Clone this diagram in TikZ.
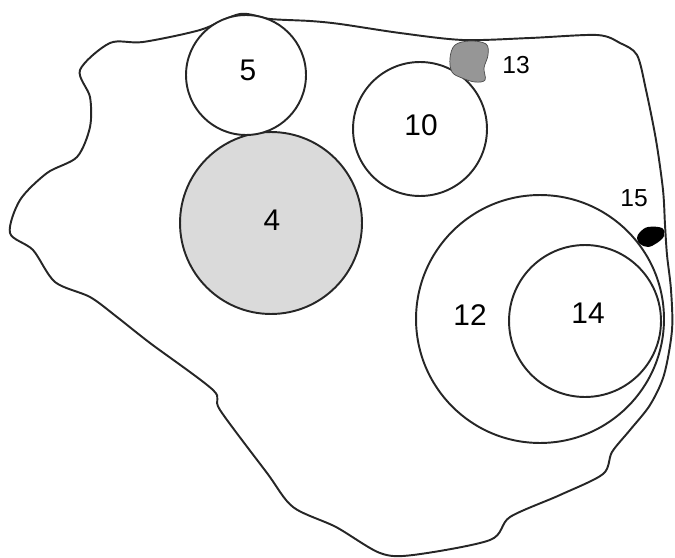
\documentclass[tikz,border=0pt]{standalone}
\usepackage{fontspec}
\setmainfont{Liberation Sans}
\definecolor{plotgray}{RGB}{218, 218, 218}
\definecolor{spotgray}{RGB}{150, 150, 150}

\begin{document}
\begin{tikzpicture}[
    x=0.02cm, y=-0.02cm,
    edge/.style={line width=1.1pt, black!85},
    zone/.style={circle, draw, line width=1.1pt, black!85, inner sep=0pt},
    lbl/.style={font=\fontsize{17}{17}\selectfont},
    smalllbl/.style={font=\fontsize{14}{14}\selectfont}
]
\useasboundingbox (0,0) rectangle (675,557);

% === Contorno de la parcela ===
\draw[edge] plot[smooth cycle, tension=0.5] coordinates {
    (240,14) (270,19) (310,21) (340,24) (400,33) (463,40) (530,38)
    (597,35) (620,43) (637,55) (646,90) (656,140) (663,190) (665,225)
    (667,255) (671,290) (672,330) (664,375) (650,405) (630,430)
    (612,452) (603,474) (560,495) (510,517) (490,540) (413,555)
    (380,553) (336,527) (293,507) (267,473) (220,410) (213,390)
    (150,343) (117,317) (90,297) (55,282) (33,250) (10,233) (20,200)
    (47,173) (77,157) (90,127) (90,97) (80,70) (110,43) (143,42)
    (200,30)};

% === Zonas circulares ===
\node[zone, fill=plotgray, minimum size=3.64cm] (c4) at (271,223) {};
\node[zone, fill=white, minimum size=2.4cm] (c5) at (246,75) {};
\node[zone, fill=white, minimum size=2.68cm] (c10) at (420,129) {};
\node[zone, minimum size=4.96cm] (c12) at (540,319) {};
\node[zone, minimum size=3.04cm] (c14) at (585,321) {};

% === Manchas pequeñas ===
\fill[spotgray, draw=black!70, line width=0.4pt] plot[smooth cycle, tension=0.6] coordinates {
    (455,45) (470,41) (486,44) (488,55) (484,68) (485,80) (475,82)
    (462,78) (452,72) (450,58)};
\fill[black] plot[smooth cycle, tension=0.6] coordinates {
    (640,232) (648,227) (662,228) (664,236) (657,243) (648,247)
    (640,244) (637,238)};

% === Etiquetas ===
\node[lbl] (t5) at (248,70) {5};
\node[lbl] (t4) at (272,220) {4};
\node[lbl] (t10) at (421,125) {10};
\node[lbl] (t12) at (470,315) {12};
\node[lbl] (t14) at (588,313) {14};
\node[smalllbl] (t13) at (516,65) {13};
\node[smalllbl] (t15) at (634,198) {15};

\end{tikzpicture}
\end{document}
